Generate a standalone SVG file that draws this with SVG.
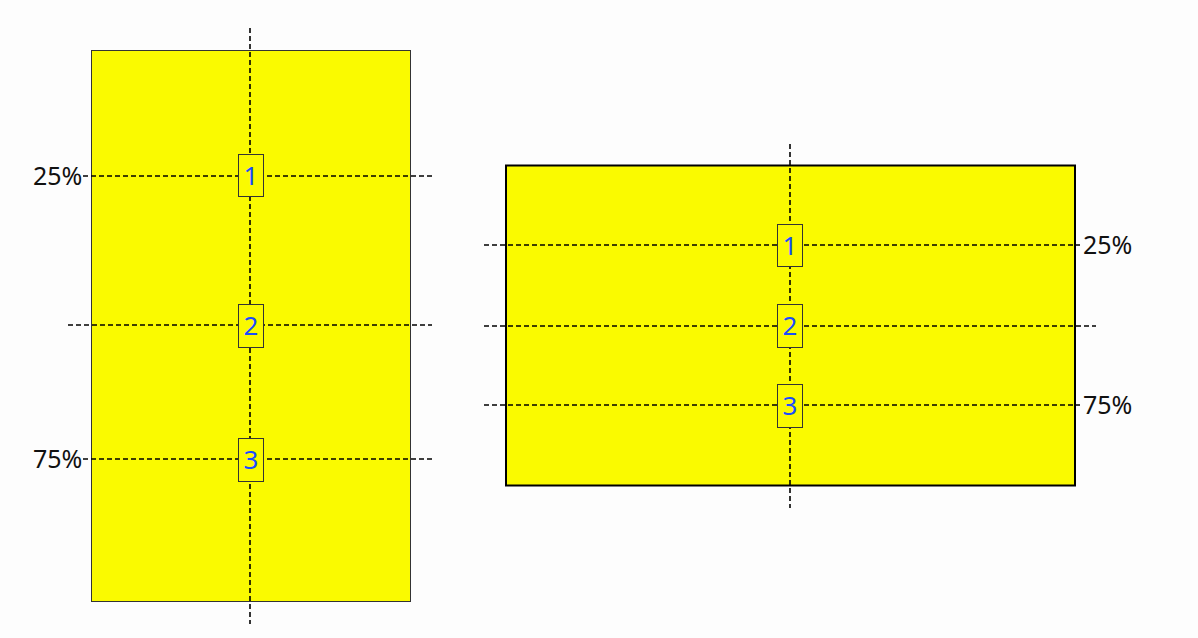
<svg xmlns="http://www.w3.org/2000/svg" width="1198" height="638" viewBox="0 0 1198 638">
<style>
.bg{fill:#fdfdfd}
.area{fill:#fafa00}
.dash{stroke:#000;stroke-width:1.6;stroke-dasharray:5,3;fill:none}
.box{fill:#fafa00;stroke:#333;stroke-width:1}
.num{font-family:"Noto Sans","Open Sans",sans-serif;font-size:26px;fill:#1a4cff;text-anchor:middle}
.pct{font-family:"Noto Sans","Open Sans",sans-serif;font-size:25px;fill:#111}
</style>
<rect class="bg" x="0" y="0" width="1198" height="638"/>
<g id="left-area">
<rect class="area" x="91.5" y="50.5" width="319" height="551" stroke="#333" stroke-width="1"/>
</g>
<g id="right-area">
<rect class="area" x="506" y="165.5" width="569" height="320" stroke="#000" stroke-width="2"/>
</g>
<g id="connectors">
<line class="dash" x1="250" y1="28" x2="250" y2="624"/>
<line class="dash" x1="83" y1="176" x2="432" y2="176"/>
<line class="dash" x1="68" y1="325" x2="432" y2="325"/>
<line class="dash" x1="83" y1="459" x2="432" y2="459"/>
<line class="dash" x1="790" y1="144" x2="790" y2="508"/>
<line class="dash" x1="484" y1="245" x2="1080" y2="245"/>
<line class="dash" x1="484" y1="326" x2="1096" y2="326"/>
<line class="dash" x1="484" y1="405" x2="1080" y2="405"/>
</g>
<g id="left-label-25"><text class="pct" x="33" y="184.5">25%</text></g>
<g id="left-label-75"><text class="pct" x="33" y="468">75%</text></g>
<g id="right-label-25"><text class="pct" x="1083" y="254">25%</text></g>
<g id="right-label-75"><text class="pct" x="1083" y="414">75%</text></g>
<g id="left-box-1"><rect class="box" x="238.5" y="154.5" width="25" height="42"/><text class="num" x="251" y="185">1</text></g>
<g id="left-box-2"><rect class="box" x="238.5" y="304.5" width="25" height="43"/><text class="num" x="251" y="335">2</text></g>
<g id="left-box-3"><rect class="box" x="238.5" y="438.5" width="25" height="43"/><text class="num" x="251" y="469">3</text></g>
<g id="right-box-1"><rect class="box" x="777.5" y="224.5" width="25" height="42"/><text class="num" x="790" y="255">1</text></g>
<g id="right-box-2"><rect class="box" x="777.5" y="304.5" width="25" height="43"/><text class="num" x="790" y="335">2</text></g>
<g id="right-box-3"><rect class="box" x="777.5" y="384.5" width="25" height="43"/><text class="num" x="790" y="415">3</text></g>
</svg>
